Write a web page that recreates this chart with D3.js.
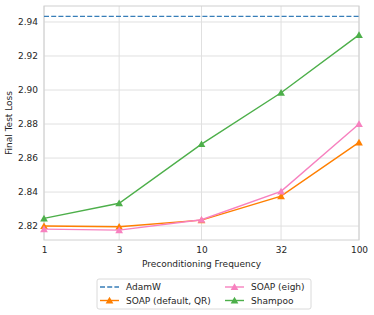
<!DOCTYPE html>
<html>
<head>
<meta charset="utf-8">
<script src="https://cdn.jsdelivr.net/npm/d3@7"></script>
<style>
  body { margin: 0; background: #fff; }
  text { font-family: "DejaVu Sans", sans-serif; fill: #262626; }
</style>
</head>
<body>
<div class="chart"></div>
<script>
// DATA ------------------------------------
const freqs = [1, 3, 10, 32, 100];
const adamw = 2.9433;
const soapQR = [2.8200, 2.8196, 2.8235, 2.8376, 2.8692];
const soapEigh = [2.8182, 2.8176, 2.8237, 2.8404, 2.8800];
const shampoo = [2.8245, 2.8334, 2.8682, 2.8984, 2.9324];
const yTicks = [2.82, 2.84, 2.86, 2.88, 2.90, 2.92, 2.94];

// CHART INIT ------------------------------
const W = 374, H = 315;
const margin = ({top: 6, right: 15, bottom: 75, left: 44});
const width = W - margin.left - margin.right;
const height = H - margin.top - margin.bottom;

const root = d3.select(".chart").append("svg")
    .attr("width", W)
    .attr("height", H);
const svg = root.append("g")
    .attr("transform", `translate(${margin.left},${margin.top})`);

let xScale = d3.scaleLog().domain([1, 100]).range([0, width]);
let yScale = d3.scaleLinear().domain([2.8118, 2.9494]).range([height, 0]);

// grid
svg.append("g").selectAll("line")
    .data(freqs).join("line")
    .attr("x1", d => xScale(d)).attr("x2", d => xScale(d))
    .attr("y1", 0).attr("y2", height)
    .attr("stroke", "#e0e0e0").attr("stroke-width", 1);
svg.append("g").selectAll("line")
    .data(yTicks).join("line")
    .attr("x1", 0).attr("x2", width)
    .attr("y1", d => yScale(d)).attr("y2", d => yScale(d))
    .attr("stroke", "#e0e0e0").attr("stroke-width", 1);

// frame
svg.append("rect")
    .attr("width", width).attr("height", height)
    .attr("fill", "none").attr("stroke", "#d0d0d0").attr("stroke-width", 1);

// axes
let xAxis = d3.axisBottom(xScale).tickValues(freqs).tickFormat(d3.format("d")).tickSize(0).tickPadding(7);
let yAxis = d3.axisLeft(yScale).tickValues(yTicks).tickFormat(d3.format(".2f")).tickSize(0).tickPadding(6);
svg.append("g").attr("class", "axis x-axis")
    .attr("transform", `translate(0,${height})`)
    .call(xAxis);
svg.append("g").attr("class", "axis y-axis").call(yAxis);
svg.selectAll(".axis .domain").remove();
svg.selectAll(".axis text").attr("font-size", "9px").style("fill", "#262626");

svg.append("text")
    .attr("x", width / 2).attr("y", height + 27)
    .attr("text-anchor", "middle").attr("font-size", "9px")
    .text("Preconditioning Frequency");
svg.append("text")
    .attr("transform", `translate(${-32},${height / 2}) rotate(-90)`)
    .attr("text-anchor", "middle").attr("font-size", "9px")
    .text("Final Test Loss");

// series
const series = [
  {name: "SOAP (default, QR)", vals: soapQR, color: "#ff7f00"},
  {name: "SOAP (eigh)", vals: soapEigh, color: "#f781bf"},
  {name: "Shampoo", vals: shampoo, color: "#4daf4a"}
];
const tri = d3.symbol().type(d3.symbolTriangle).size(26);

svg.append("line")
    .attr("x1", 0).attr("x2", width)
    .attr("y1", yScale(adamw)).attr("y2", yScale(adamw))
    .attr("stroke", "#377eb8").attr("stroke-width", 1.4)
    .attr("stroke-dasharray", "5,2.2");

const line = d3.line().x((d, i) => xScale(freqs[i])).y(d => yScale(d));
series.forEach(s => {
  svg.append("path")
      .attr("d", line(s.vals))
      .attr("fill", "none").attr("stroke", s.color).attr("stroke-width", 1.4);
  svg.append("g").selectAll("path")
      .data(s.vals).join("path")
      .attr("d", tri)
      .attr("transform", (d, i) => `translate(${xScale(freqs[i])},${yScale(d) + 0.8})`)
      .attr("fill", s.color);
});

// legend
const lg = root.append("g").attr("transform", "translate(97,279)");
lg.append("rect")
    .attr("width", 214).attr("height", 30).attr("rx", 2)
    .attr("fill", "#fff").attr("stroke", "#d0d0d0").attr("stroke-width", 0.8);
const items = [
  {name: "AdamW", color: "#377eb8", dash: true, col: 0, row: 0},
  {name: series[0].name, color: series[0].color, col: 0, row: 1},
  {name: series[1].name, color: series[1].color, col: 1, row: 0},
  {name: series[2].name, color: series[2].color, col: 1, row: 1}
];
items.forEach(it => {
  const x0 = it.col === 0 ? 3 : 128;
  const y0 = it.row === 0 ? 8 : 21.5;
  lg.append("line")
      .attr("x1", x0).attr("x2", x0 + 19).attr("y1", y0).attr("y2", y0)
      .attr("stroke", it.color).attr("stroke-width", 1.4)
      .attr("stroke-dasharray", it.dash ? "5,2.2" : null);
  if (!it.dash) {
    lg.append("path").attr("d", tri)
        .attr("transform", `translate(${x0 + 9.5},${y0 + 0.8})`)
        .attr("fill", it.color);
  }
  lg.append("text")
      .attr("x", x0 + 26).attr("y", y0 + 3.3)
      .attr("font-size", "9px")
      .text(it.name);
});
</script>
</body>
</html>
